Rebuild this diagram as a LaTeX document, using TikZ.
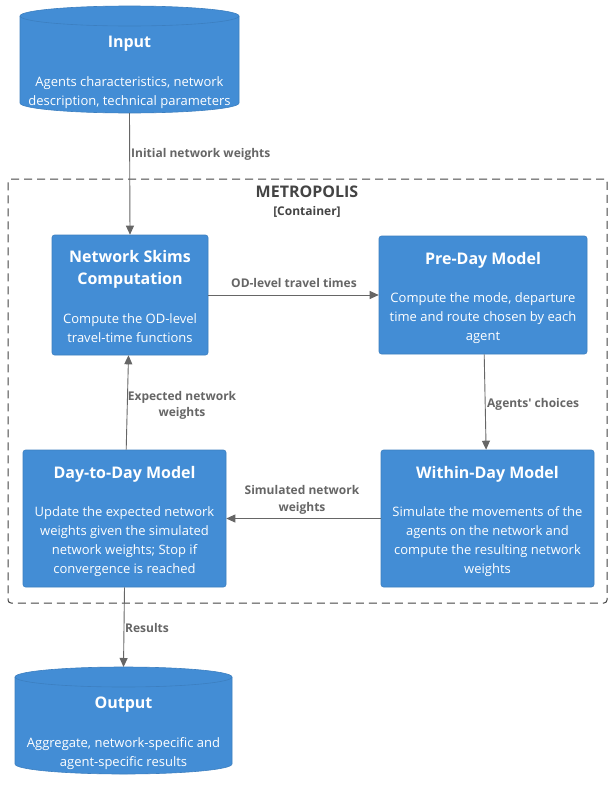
\documentclass[tikz,border=0pt]{standalone}
\usepackage{fontspec}
\setmainfont{Open Sans}
\usetikzlibrary{arrows.meta}
\definecolor{boxfill}{HTML}{438DD5}
\definecolor{boxline}{HTML}{3C7FC0}
\definecolor{arrowgray}{HTML}{666666}
\definecolor{bndgray}{HTML}{444444}
\tikzset{
 box/.style={fill=boxfill, draw=boxline, line width=0.6pt, rounded corners=2.5pt, inner sep=0pt},
 holder/.style={inner sep=0pt, outer sep=0pt},
 ttl/.style={font=\fontsize{16}{20}\selectfont\bfseries, text=white, anchor=base, inner sep=0pt},
 dsc/.style={font=\fontsize{13}{19}\selectfont, text=white, anchor=base, inner sep=0pt},
 lbl/.style={font=\fontsize{12}{15}\selectfont\bfseries, text=arrowgray, inner sep=0pt},
 conn/.style={draw=arrowgray, line width=0.9pt, -{Triangle[length=9pt,width=8pt]}},
 bnd/.style={draw=bndgray, line width=1pt, dash pattern=on 8pt off 5pt, rounded corners=3pt, inner sep=0pt}
}
\begin{document}
\begin{tikzpicture}[x=1pt,y=-1pt]
\useasboundingbox (0,0) rectangle (612,790);
\fill[white] (0,0) rectangle (612,790);

% container boundary
\node[bnd, minimum width=599pt, minimum height=424pt] (metro) at (307.5,391) {};
\node[font=\fontsize{16}{20}\selectfont\bfseries, text=bndgray, anchor=base, inner sep=0pt] (metroT) at (307,197) {METROPOLIS};
\node[font=\fontsize{12}{15}\selectfont\bfseries, text=bndgray, anchor=base, inner sep=0pt] (metroS) at (307,215.5) {[Container]};

% Input cylinder
\fill[boxfill, draw=boxline, line width=0.6pt] (20,16) -- (20,103) arc[start angle=180,end angle=360,x radius=109.5pt,y radius=10pt] -- (239,16) arc[start angle=0,end angle=180,x radius=109.5pt,y radius=10pt] -- cycle;
\draw[boxline, line width=0.6pt] (20,16) arc[start angle=180,end angle=360,x radius=109.5pt,y radius=10pt];
\node[holder, minimum width=219pt, minimum height=107pt] (input) at (129.5,59.5) {};
\node[ttl] (inputT) at (129.5,47.5) {Input};
\node[dsc] (inputD1) at (129.5,86) {Agents characteristics, network};
\node[dsc] (inputD2) at (129.5,105) {description, technical parameters};

% Output cylinder
\fill[boxfill, draw=boxline, line width=0.6pt] (15,677) -- (15,764) arc[start angle=180,end angle=360,x radius=108.5pt,y radius=10pt] -- (232,677) arc[start angle=0,end angle=180,x radius=108.5pt,y radius=10pt] -- cycle;
\draw[boxline, line width=0.6pt] (15,677) arc[start angle=180,end angle=360,x radius=108.5pt,y radius=10pt];
\node[holder, minimum width=217pt, minimum height=107pt] (output) at (123.5,720.5) {};
\node[ttl] (outputT) at (123.5,708) {Output};
\node[dsc] (outputD1) at (123.5,747) {Aggregate, network-specific and};
\node[dsc] (outputD2) at (123.5,766) {agent-specific results};

% Network Skims
\node[box, minimum width=156pt, minimum height=120pt] (skims) at (130,295) {};
\node[ttl] (skimsT1) at (130,262) {Network Skims};
\node[ttl] (skimsT2) at (130,284) {Computation};
\node[dsc] (skimsD1) at (130,323) {Compute the OD-level};
\node[dsc] (skimsD2) at (130,342) {travel-time functions};

% Pre-Day
\node[box, minimum width=208pt, minimum height=118pt] (pre) at (483,295) {};
\node[ttl] (preT) at (483,264) {Pre-Day Model};
\node[dsc] (preD1) at (483,302) {Compute the mode, departure};
\node[dsc] (preD2) at (483,321) {time and route chosen by each};
\node[dsc] (preD3) at (483,340) {agent};

% Day-to-Day
\node[box, minimum width=203pt, minimum height=137pt] (day) at (124.5,518.5) {};
\node[ttl] (dayT) at (124.5,478) {Day-to-Day Model};
\node[dsc] (dayD1) at (124.5,516) {Update the expected network};
\node[dsc] (dayD2) at (124.5,535) {weights given the simulated};
\node[dsc] (dayD3) at (124.5,554) {network weights; Stop if};
\node[dsc] (dayD4) at (124.5,573) {convergence is reached};

% Within-Day
\node[box, minimum width=213pt, minimum height=137pt] (within) at (487.5,518.5) {};
\node[ttl] (withinT) at (487.5,478) {Within-Day Model};
\node[dsc] (withinD1) at (487.5,516) {Simulate the movements of the};
\node[dsc] (withinD2) at (487.5,535) {agents on the network and};
\node[dsc] (withinD3) at (487.5,554) {compute the resulting network};
\node[dsc] (withinD4) at (487.5,573) {weights};

% connectors
\draw[conn] (input.south) -- (skims.north);
\draw[conn] (skims) -- (pre);
\draw[conn] (pre) -- (within);
\draw[conn] (within) -- (day);
\draw[conn] (day) -- (skims);
\draw[conn] (day.south) -- (output.north);

% labels
\node[lbl, anchor=base west] (l1) at (131,157.5) {Initial network weights};
\node[lbl, anchor=base west] (l2) at (231,287.5) {OD-level travel times};
\node[lbl, anchor=base] (l3a) at (182,400.3) {Expected network};
\node[lbl, anchor=base] (l3b) at (182,416.3) {weights};
\node[lbl, anchor=base west] (l4) at (487,407.3) {Agents\textquotesingle{} choices};
\node[lbl, anchor=base] (l5a) at (302,494.3) {Simulated network};
\node[lbl, anchor=base] (l5b) at (302,511.3) {weights};
\node[lbl, anchor=base west] (l6) at (125,632) {Results};
\end{tikzpicture}
\end{document}
